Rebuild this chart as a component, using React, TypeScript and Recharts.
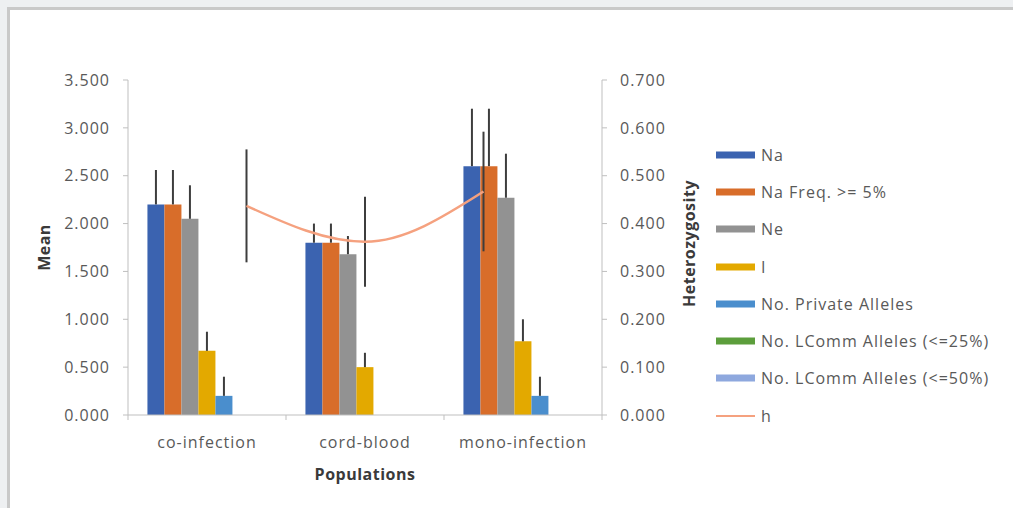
import React from 'react'
import { ComposedChart, Bar, Line, XAxis, YAxis, ErrorBar, Legend, Label } from 'recharts'

// Populations on the category axis
const categories = ['co-infection', 'cord-blood', 'mono-infection']

// Mean values per population, with the upper error amounts
const na = [2.2, 1.8, 2.6]
const naErr = [0.36, 0.2, 0.6]
const naFreq = [2.2, 1.8, 2.6]
const naFreqErr = [0.36, 0.2, 0.6]
const ne = [2.05, 1.68, 2.27]
const neErr = [0.35, 0.19, 0.46]
const infoI = [0.67, 0.5, 0.77]
const infoIErr = [0.2, 0.15, 0.23]
const privateAlleles = [0.2, 0, 0.2]
const privateErr = [0.2, 0, 0.2]
const lcomm25 = [0, 0, 0]
const lcomm50 = [0, 0, 0]

// Heterozygosity (secondary axis) and its symmetric error
const het = [0.437, 0.362, 0.467]
const hetErr = [0.118, 0.094, 0.125]
// h is plotted on its own 0-4 horizontal axis
const hetPos = [1, 2, 3]

const meanTicks = [0, 0.5, 1, 1.5, 2, 2.5, 3, 3.5]
const hetTicks = [0, 0.1, 0.2, 0.3, 0.4, 0.5, 0.6, 0.7]

const TEXT = '#595959'
const TITLE = '#3a3a3a'
const AXIS = '#bfbfbf'
const ERR = '#3d3d3d'
const FONT = 16
const SPACING = 1

const data = categories.map((name, i) => ({
  name,
  na: na[i],
  naErr: [0, naErr[i]],
  naFreq: naFreq[i],
  naFreqErr: [0, naFreqErr[i]],
  ne: ne[i],
  neErr: [0, neErr[i]],
  infoI: infoI[i],
  infoIErr: [0, infoIErr[i]],
  priv: privateAlleles[i],
  privErr: [0, privateErr[i]],
  lcomm25: lcomm25[i],
  lcomm50: lcomm50[i],
  h: het[i],
  hErr: hetErr[i],
  hPos: hetPos[i],
}))

const bars = [
  { key: 'na', err: 'naErr', name: 'Na', color: '#3b63b0' },
  { key: 'naFreq', err: 'naFreqErr', name: 'Na Freq. >= 5%', color: '#d86d2a' },
  { key: 'ne', err: 'neErr', name: 'Ne', color: '#929292' },
  { key: 'infoI', err: 'infoIErr', name: 'I', color: '#e3a900' },
  { key: 'priv', err: 'privErr', name: 'No. Private Alleles', color: '#4a8ecd' },
  { key: 'lcomm25', err: null, name: 'No. LComm Alleles (<=25%)', color: '#5c9e3c' },
  { key: 'lcomm50', err: null, name: 'No. LComm Alleles (<=50%)', color: '#8ea8de' },
]

// legend keeps series order, not alphabetical
const legendOrder = [...bars.map((b) => b.name), 'h']

const tickStyle = { fill: TEXT, fontSize: FONT, letterSpacing: SPACING }

// category labels with tick marks on the band edges
const CategoryTick = (props: any) => {
  const { x, y, payload, index, visibleTicksCount } = props
  const half = payload.offset ?? 79
  return (
    <g>
      <line x1={x - half} x2={x - half} y1={y} y2={y + 5} stroke={AXIS} />
      {index === visibleTicksCount - 1 && (
        <line x1={x + half} x2={x + half} y1={y} y2={y + 5} stroke={AXIS} />
      )}
      <text x={x} y={y + 33} textAnchor="middle" style={tickStyle}>
        {payload.value}
      </text>
    </g>
  )
}

const renderLegend = (props: any) => {
  const items = [...(props.payload || [])].sort(
    (a: any, b: any) => legendOrder.indexOf(a.value) - legendOrder.indexOf(b.value)
  )
  return (
    <div>
      {items.map((item: any) => (
        <div key={item.value} style={{ display: 'flex', alignItems: 'center', height: 37.3 }}>
          <svg width={40} height={10}>
            {item.type === 'line' ? (
              <line x1={0} x2={39} y1={5} y2={5} stroke={item.color} strokeWidth={2} />
            ) : (
              <rect x={0} y={1.5} width={39} height={7} fill={item.color} />
            )}
          </svg>
          <span style={{ marginLeft: 5, color: TEXT, fontSize: FONT, letterSpacing: SPACING }}>
            {item.value}
          </span>
        </div>
      ))}
    </div>
  )
}

const titleProps = {
  fontSize: FONT,
  fontWeight: 'bold' as const,
  fill: TITLE,
  style: { letterSpacing: 0.5 },
}

export default function App() {
  return (
    <div
      style={{
        position: 'absolute',
        left: 0,
        top: 0,
        width: 1013,
        height: 508,
        background: '#eef0f2',
        fontFamily: '"Open Sans", sans-serif',
        overflow: 'hidden',
      }}
    >
      <div
        style={{
          position: 'absolute',
          left: 7,
          top: 7,
          right: 0,
          bottom: 0,
          background: '#fff',
          borderLeft: '3px solid #c9c9c9',
          borderTop: '3px solid #c9c9c9',
        }}
      />
      <div style={{ position: 'absolute', left: 0, top: 0 }}>
        <ComposedChart
          width={1013}
          height={508}
          data={data}
          margin={{ top: 80, right: 311, bottom: 23, left: 58 }}
          barCategoryGap="12.3%"
          barGap={0}
        >
          <XAxis
            xAxisId="cat"
            dataKey="name"
            height={70}
            axisLine={{ stroke: AXIS }}
            tickLine={false}
            tickSize={0}
            tickMargin={0}
            tick={<CategoryTick />}
            interval={0}
          >
            <Label
              content={(p: any) => (
                <text
                  x={p.viewBox.x + p.viewBox.width / 2}
                  y={p.viewBox.y + 65}
                  textAnchor="middle"
                  {...titleProps}
                >
                  Populations
                </text>
              )}
            />
          </XAxis>
          <XAxis xAxisId="hx" type="number" dataKey="hPos" domain={[0, 4]} hide />
          <YAxis
            yAxisId="mean"
            width={70}
            domain={[0, 3.5]}
            ticks={meanTicks}
            tickFormatter={(v: number) => v.toFixed(3)}
            axisLine={{ stroke: AXIS }}
            tickLine={{ stroke: AXIS }}
            tickSize={5}
            tickMargin={13}
            tick={tickStyle}
          >
            <Label
              content={(p: any) => {
                const cx = p.viewBox.x - 14
                const cy = p.viewBox.y + p.viewBox.height / 2
                return (
                  <text
                    x={cx}
                    y={cy}
                    transform={`rotate(-90 ${cx} ${cy})`}
                    textAnchor="middle"
                    dominantBaseline="central"
                    {...titleProps}
                  >
                    Mean
                  </text>
                )
              }}
            />
          </YAxis>
          <YAxis
            yAxisId="het"
            orientation="right"
            width={100}
            domain={[0, 0.7]}
            ticks={hetTicks}
            tickFormatter={(v: number) => v.toFixed(3)}
            axisLine={{ stroke: AXIS }}
            tickLine={{ stroke: AXIS }}
            tickSize={5}
            tickMargin={13}
            tick={tickStyle}
          >
            <Label
              content={(p: any) => {
                const cx = p.viewBox.x + 87
                const cy = p.viewBox.y + p.viewBox.height / 2 - 4
                return (
                  <text
                    x={cx}
                    y={cy}
                    transform={`rotate(-90 ${cx} ${cy})`}
                    textAnchor="middle"
                    dominantBaseline="central"
                    {...titleProps}
                  >
                    Heterozygosity
                  </text>
                )
              }}
            />
          </YAxis>
          <Legend
            layout="vertical"
            align="center"
            verticalAlign="middle"
            content={renderLegend}
            wrapperStyle={{ left: 716, top: 136, width: 295 }}
          />
          {bars.map((b) => (
            <Bar
              key={b.key}
              xAxisId="cat"
              yAxisId="mean"
              dataKey={b.key}
              name={b.name}
              fill={b.color}
              isAnimationActive={false}
            >
              {b.err && (
                <ErrorBar dataKey={b.err} width={0} stroke={ERR} strokeWidth={2} direction="y" />
              )}
            </Bar>
          ))}
          <Line
            xAxisId="hx"
            yAxisId="het"
            type="monotone"
            dataKey="h"
            name="h"
            stroke="#f5a17f"
            strokeWidth={2.5}
            dot={false}
            activeDot={false}
            isAnimationActive={false}
          >
            <ErrorBar dataKey="hErr" width={0} stroke={ERR} strokeWidth={2} direction="y" />
          </Line>
        </ComposedChart>
      </div>
    </div>
  )
}
